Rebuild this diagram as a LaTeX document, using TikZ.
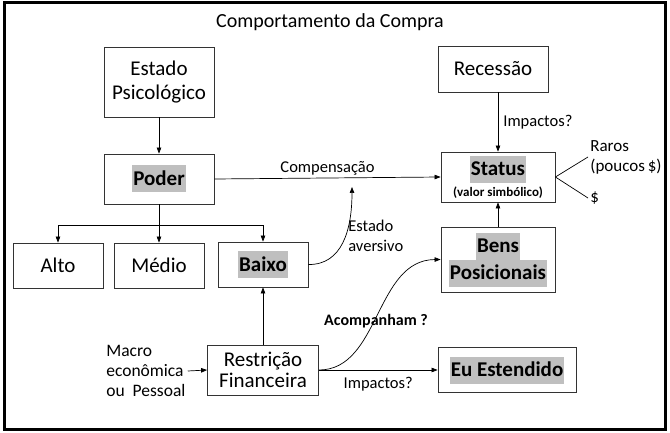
\documentclass[tikz,border=0pt]{standalone}
\usepackage{fontspec}
\setmainfont{Carlito}
\usetikzlibrary{arrows.meta}

\definecolor{hlgray}{HTML}{BFBFBF}
\newcommand{\hlt}[1]{{\setlength{\fboxsep}{1pt}\colorbox{hlgray}{\rule[-6pt]{0pt}{25pt}#1}}}

\begin{document}
\begin{tikzpicture}[x=1pt, y=-1pt,
	box/.style={rectangle, draw=black!80, line width=0.8pt, align=center, inner sep=0pt, font=\fontsize{21}{24}\selectfont},
	hbox/.style={box, font=\bfseries\fontsize{21}{27}\selectfont},
	lbl/.style={inner sep=2pt, font=\fontsize{16.5}{20}\selectfont},
	>={Triangle[length=6pt, width=4.5pt]}, line width=0.7pt]
				\useasboundingbox (0,0) rectangle (670,433);
				\draw[line width=3pt] (4,3) rectangle (665,429);
				\node[font=\fontsize{20}{22}\selectfont] (titulo) at (330,22) {Comportamento da Compra};
				\node[box, minimum width=110pt, minimum height=70pt] (estado) at (159,82) {Estado\\Psicológico};
				\node[hbox, minimum width=110pt, minimum height=50pt] (poder) at (159,179) {\hlt{Poder}};
				\node[box, minimum width=110pt, minimum height=46pt] (recessao) at (493,69) {Recessão};
				\node[hbox, minimum width=114pt, minimum height=50pt] (status) at (498,177) {\hlt{Status}\\[-6pt]{\fontsize{13}{15}\selectfont(valor simbólico)}};
				\node[box, minimum width=90pt, minimum height=45pt] (alto) at (58,265.5) {Alto};
				\node[box, minimum width=90pt, minimum height=45pt] (medio) at (159,265.5) {Médio};
				\node[hbox, minimum width=90pt, minimum height=45pt] (baixo) at (263,264.5) {\hlt{Baixo}};
				\node[box, minimum width=111pt, minimum height=50pt, font=\fontsize{21}{21}\selectfont] (restricao) at (263,370) {Restrição\\Financeira};
				\node[hbox, minimum width=114pt, minimum height=65pt] (bens) at (498,259.5) {\hlt{Bens}\\\hlt{Posicionais}};
				\node[hbox, minimum width=138pt, minimum height=45pt] (eu) at (507,370) {\hlt{Eu Estendido}};
				\node[lbl, anchor=west, align=left, font=\fontsize{17.5}{20}\selectfont] (macro) at (104,371) {Macro\\econômica\\ou\ \ Pessoal};
				\node[lbl, anchor=west, align=left, font=\fontsize{17}{20}\selectfont] (raros) at (588,157) {Raros\\(poucos\,\$)};
				\node[lbl, anchor=west, font=\fontsize{17}{20}\selectfont] (dolar) at (588,198) {\$};
				\node[lbl, anchor=west, align=left] (aversivo) at (346,236) {Estado\\aversivo};
				\node[lbl, font=\bfseries\fontsize{16}{18}\selectfont] (acomp) at (376,321) {Acompanham ?};
				\coordinate (comp) at (352,187);
				\draw[->] (estado) -- (poder);
				\draw[->] (poder.south) -- ++(0,21) -| (alto.north);
				\draw[->] (poder.south) -- (medio.north);
				\draw[->] (poder.south) -- ++(0,21) -| (baixo.north);
				\draw[->] (poder.east) -- (status.west) node[lbl, midway, above] {Compensação};
				\draw[->] (recessao.south -| status.north) -- (status.north) node[lbl, midway, right, xshift=3pt] {Impactos?};
				\draw (status.east) -- (raros.west);\draw (status.east) -- (dolar.west);
				\draw[->] (bens) -- (status);
				\draw[->] (baixo.east) .. controls (342,265) and (352,230) .. (comp);
				\draw[->] (restricao) -- (baixo);
				\draw[->] (macro.east) -- (restricao.west);
				\draw[->] (restricao.east) .. controls (380,370) and (375,260) .. (bens.west);
				\draw[->] (restricao.east) -- (eu.west) node[lbl, midway, below, yshift=-5pt] {Impactos?};
			\end{tikzpicture}
\end{document}
